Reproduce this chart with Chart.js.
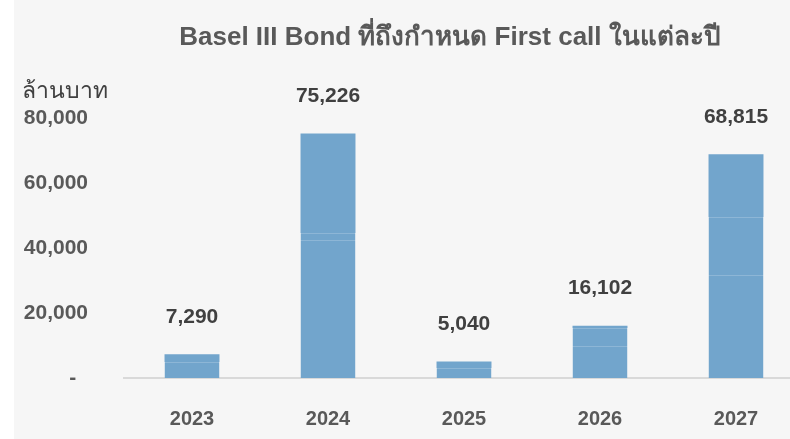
<!DOCTYPE html>
<html lang="th">
<head>
    <meta charset="UTF-8">
    <title>Basel III Bond First call</title>
    <style>
        html, body {
            margin: 0;
            padding: 0;
            background: #ffffff;
            overflow: hidden;
            width: 790px;
            height: 439px;
        }
        .wrap {
            position: absolute;
            left: 14px;
            top: 0;
            width: 790px;
            height: 439px;
            background: #f6f6f6;
        }
    </style>
</head>
<body>
    <div class="wrap">
        <canvas id="bondChart" width="790" height="439"></canvas>
    </div>

    <script src="https://cdn.jsdelivr.net/npm/chart.js"></script>
    <script>
        const years = ['2023', '2024', '2025', '2026', '2027'];
        // the bars are stacked from a few issues each, drawn in one colour
        const part1 = [4900, 42460, 3080, 9850, 31700];
        const part2 = [2390, 2150, 1960, 5540, 17850];
        const part3 = [0, 30616, 0, 712, 19265];
        const totals = [7290, 75226, 5040, 16102, 68815];
        const yTicks = [0, 20000, 40000, 60000, 80000];

        const parts = [part1, part2, part3];
        const barColor = '#72a5cc';
        const textGrey = '#595959';
        const textDark = '#404040';
        const fontFamily = 'Arial, "Liberation Sans", sans-serif';

        // thin seam only between segments, not on the top of the stack
        function seam(c) {
            const d = c.datasetIndex, i = c.dataIndex;
            const above = parts.slice(d + 1).some(p => p[i] > 0);
            return { top: above ? 1 : 0, left: 0, right: 0, bottom: 0 };
        }

        function segment(data) {
            return {
                data: data,
                backgroundColor: barColor,
                borderColor: '#8db6d6',
                borderWidth: seam,
                borderSkipped: false,
                barPercentage: 0.404,
                categoryPercentage: 1
            };
        }

        const fmt = v => v.toLocaleString('en-US');

        // title, unit text and total labels
        const extraText = {
            id: 'extraText',
            afterDatasetsDraw(chart) {
                const ctx = chart.ctx;
                const x = chart.scales.x;
                const y = chart.scales.y;
                ctx.save();
                ctx.textAlign = 'center';
                ctx.textBaseline = 'middle';
                ctx.fillStyle = textDark;
                ctx.font = 'bold 21px ' + fontFamily;
                totals.forEach((t, i) => {
                    ctx.fillText(fmt(t), x.getPixelForValue(i), y.getPixelForValue(t) - 37);
                });

                ctx.fillStyle = textGrey;
                ctx.font = 'bold 26px ' + fontFamily;
                ctx.fillText('Basel III Bond ที่ถึงกำหนด First call ในแต่ละปี', 436, 38);

                ctx.textAlign = 'left';
                ctx.fillStyle = textDark;
                ctx.font = '23px ' + fontFamily;
                ctx.fillText('ล้านบาท', 8, 92);
                ctx.restore();
            }
        };

        new Chart(document.getElementById('bondChart'), {
            type: 'bar',
            data: {
                labels: years,
                datasets: parts.map(segment)
            },
            options: {
                responsive: false,
                animation: false,
                layout: { padding: { top: 118, right: 0, bottom: 0, left: 0 } },
                plugins: {
                    legend: { display: false },
                    title: { display: false },
                    tooltip: { enabled: false }
                },
                scales: {
                    x: {
                        stacked: true,
                        grid: { display: false },
                        border: { display: true, color: '#d9d9d9', width: 2 },
                        ticks: {
                            color: textGrey,
                            font: { family: fontFamily, size: 20, weight: 'bold' },
                            padding: 21
                        },
                        afterFit(scale) { scale.height = 61; }
                    },
                    y: {
                        stacked: true,
                        min: 0,
                        max: 80000,
                        afterBuildTicks(scale) {
                            scale.ticks = yTicks.map(v => ({ value: v }));
                        },
                        grid: { display: false },
                        border: { display: false },
                        ticks: {
                            color: textGrey,
                            font: { family: fontFamily, size: 21, weight: 'bold' },
                            padding: 28,
                            callback: v => v === 0 ? '-  ' : fmt(v)
                        },
                        afterFit(scale) { scale.width = 110; }
                    }
                }
            },
            plugins: [extraText]
        });
    </script>
</body>
</html>
